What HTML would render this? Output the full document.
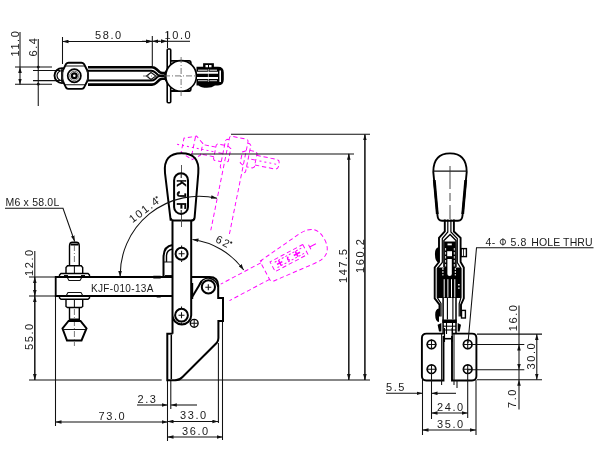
<!DOCTYPE html>
<html><head><meta charset="utf-8">
<style>
html,body{margin:0;padding:0;background:#fff;width:600px;height:460px;overflow:hidden}
svg{display:block;will-change:transform}
text{font-family:"Liberation Sans",sans-serif;font-size:11px;fill:#1a1a1a}
.t{stroke:#111;stroke-width:1.05;fill:none}
.k{stroke:#000;stroke-width:2;fill:none}
.m{stroke:#000;stroke-width:1.4;fill:none}
.d{stroke:#555;stroke-width:0.8;fill:none;stroke-dasharray:6 2 1 2}
.p{stroke:#f0f;stroke-width:1.1;fill:none;stroke-dasharray:5 3}
.n{letter-spacing:1.6px}
</style></head><body>
<svg width="600" height="460" viewBox="0 0 600 460">
<defs>
<marker id="a" viewBox="0 0 10 6" refX="10" refY="3" markerWidth="6" markerHeight="4" markerUnits="userSpaceOnUse" orient="auto-start-reverse"><path d="M0,0L10,3L0,6z" fill="#111"/></marker>
</defs>

<!-- ===== TOP VIEW ===== -->
<g id="top">
<!-- dims -->
<path class="t" d="M15,67H52M15,84.3H52M33,70.4H60M33,80.6H60"/>
<path class="t" d="M20,32V67"/>
<path class="t" d="M20,67V84.5" marker-start="url(#a)" marker-end="url(#a)"/>
<path class="t" d="M38.25,39V106"/>
<circle cx="38.25" cy="67.1" r="1.4" fill="#111"/><circle cx="38.25" cy="84.2" r="1.4" fill="#111"/>
<text class="n" transform="translate(19,56.5) rotate(-90)">11.0</text>
<text class="n" transform="translate(36.5,56.5) rotate(-90)">6.4</text>
<path class="t" d="M62.5,37V64M152.3,36V66M167.5,32V48"/>
<path class="t" d="M62.5,41.5H152" marker-start="url(#a)" marker-end="url(#a)"/>
<path class="t" d="M142,41.3H152" marker-end="url(#a)"/>
<path class="t" d="M160,41.3H152" marker-end="url(#a)"/>
<path class="t" d="M158,41.3H167.5H190" />
<path d="M161,39.3L167,41.3L161,43.3z" fill="#111"/>
<text class="n" x="95" y="39.3">58.0</text>
<text class="n" x="164.5" y="39">10.0</text>

<!-- washer left -->
<circle cx="62" cy="75.6" r="7.5" fill="none" stroke="#000" stroke-width="1.9"/>
<path d="M62,70.6A5,5 0 0 0 62,80.6" stroke="#000" stroke-width="1.2" fill="none"/>
<path class="t" d="M61.7,69V82.5M64.3,68V83.5"/>
<!-- hex nut -->
<path d="M68.5,62.7H81.5Q83,62.7 84,64L87.3,70.5Q88,72 88,74V77.5Q88,79.5 87.3,81L84,87.6Q83,88.9 81.5,88.9H68.5Q67,88.9 66,87.6L62.8,81Q62.3,79.5 62.3,77.5V74Q62.3,72 62.8,70.5L66,64Q67,62.7 68.5,62.7Z" fill="#fff" stroke="#000" stroke-width="1.9"/>
<path class="t" d="M65,66H85M65,84.8H85"/>
<path d="M63.6,70A12,12 0 0 0 63.6,81.5M86.6,70A12,12 0 0 1 86.6,81.5" stroke="#333" stroke-width="0.9" fill="none"/>
<circle cx="74.3" cy="75.8" r="6.6" fill="#fff" stroke="#000" stroke-width="1.7"/>
<circle cx="74.3" cy="75.8" r="4.6" fill="none" stroke="#555" stroke-width="0.9"/>
<circle cx="74.3" cy="75.8" r="2.4" fill="none" stroke="#000" stroke-width="2.2"/>
<!-- bar -->
<path d="M88,67.3H152Q154.5,67.3 156.5,69.2L159.5,72Q160.8,73 162.5,73H165" stroke="#000" stroke-width="2.6" fill="none"/>
<path d="M88,70.7H151.2Q153.5,70.7 155.3,72.5L157.8,74.8Q158.8,75.4 160,75.4H165" stroke="#000" stroke-width="2" fill="none"/>
<path d="M88,84.6H152Q154.5,84.6 156.5,82.6L159.5,79.7Q160.8,78.7 162.5,78.7H165" stroke="#000" stroke-width="2.6" fill="none"/>
<path d="M88,80.6H151.2Q153.5,80.6 155.3,78.9L157.8,76.6Q158.8,76 160,76H165" stroke="#000" stroke-width="2" fill="none"/>
<path class="t" d="M146.5,76L151,72.5L155.9,76L151,79.5Z" stroke="#555"/>
<path class="d" d="M143,76H158"/>
<!-- neck dark -->
<path d="M167,68Q161,75.8 167,84Q170,75.8 167,68Z" fill="#000"/>
<!-- plate -->
<rect x="167.2" y="49" width="3.5" height="53.8" rx="1" fill="#fff" stroke="#000" stroke-width="1.6"/>
<!-- ball -->
<path d="M171,60.8H189.5Q190.8,60.8 190.8,62.5V64M171,91H189.5Q190.8,91 190.8,89.3V88" stroke="#000" stroke-width="1.8" fill="none"/>
<circle cx="181.1" cy="75.9" r="15.3" fill="#fff" stroke="#000" stroke-width="1.6"/>
<path class="d" d="M164,75.9H198M181.1,57V97"/>
<!-- cylinder -->
<path d="M196.5,66.8H218Q223.8,66.8 223.8,72.5V79.5Q223.8,85.4 218,85.4H215Q212,87.8 207,87.8Q201,87.8 198.5,85.4H196.5Z" fill="#000"/>
<path d="M197,72.8H218M197,77.9H218" stroke="#fff" stroke-width="2"/>
<path d="M198,70.3H207.5M209.5,70.3H217M198,80.6H207.5M209.5,80.6H217" stroke="#aaa" stroke-width="1.4"/>
<path d="M208.4,69V82" stroke="#fff" stroke-width="0.6"/>
<path d="M219.4,70.5H221V82H219.4z" fill="#fff"/>
<path d="M203.1,67.5V63.2H213.9V67.5" fill="#000"/>
<path d="M205.5,65H208V67.3H205.5zM209,65H211.5V67.3H209z" fill="#fff"/>
</g>


<!-- ===== PHANTOMS ===== -->
<g id="ph1" transform="rotate(101.4 208.3 287.2)" stroke="#f0f" fill="none" stroke-width="0.95" stroke-dasharray="4.3 2.8">
<path d="M152,277H58Q55.7,277 55.7,279.3V293.7Q55.7,296 58,296H152"/>
<path d="M69.5,266V246Q69.5,242.3 72.5,242.3H76.3Q79.3,242.3 79.3,246V266"/>
<path d="M74.4,245V264" stroke-dasharray="2 3"/>
<path d="M66,273.7V267.5L67.5,265.8H81.2L82.7,267.5V273.7"/>
<path d="M59.5,277V275L61,273.5H88L89.5,275V277"/>
<path d="M59.5,296V298L61,299.3H88L89.5,298V296"/>
<path d="M66,299.3V306.5L67.5,307.5H81.2L82.7,306.5V299.3"/>
<path d="M69.5,307.5V320.5M79.3,307.5V320.5"/>
<path d="M68.5,321L62.5,328.5L67,340.5H81.5L86.5,328.5L80.5,321Z"/>
<path d="M74.4,309V346" stroke-dasharray="2 3"/>
<path d="M74.4,266V273.5M74.4,299.5V307M63.5,329.5H85.5M67,277L69,280.5H80L82,277M66,296L68,292.5H81L83,296"/>
</g>
<g id="ph2" transform="rotate(62 181.5 315.2)" stroke="#f0f" fill="none" stroke-width="0.95" stroke-dasharray="4.3 2.8">
<path d="M170.7,220.6L165,173Q163,153.3 181.5,153.3Q200,153.3 198.3,173L194.6,217.6Q194.3,220.6 191,220.6H174Q171,220.6 170.7,218Z"/>
<path d="M172.5,220.6V266M191.2,220.6V266"/>
<path d="M176,175H187V212H176Z"/>
<path d="M178.5,178V209M184.5,178V209" stroke-dasharray="2 2"/>
<path d="M181.5,163V170" stroke-dasharray="none"/>
<path d="M179,170H184" stroke-dasharray="none"/>
<g stroke="none" fill="#f0f">
<path d="M178.5,184h6v1.6h-6zM180.7,181h1.6v7h-1.6z"/>
<path d="M179.5,193.5a2.3,2.3 0 1 0 4.6,0h-1.5a0.8,0.8 0 1 1 -1.6,0z"/>
<path d="M178.5,203h6v1.5h-6zM180.7,201l1.6,0l0,6l-1.6,0z"/>
</g>
</g>

<!-- ===== SIDE VIEW ===== -->
<g id="side">
<!-- baseline & ext lines -->
<path class="t" d="M29,380H161.7M175,380H370"/>
<path class="t" d="M29,277H55.5M29,296H55.5"/>
<path class="t" d="M55.5,296V426M167.5,380V441M170.8,380V409M218.4,343V423M222.5,320V440"/>
<!-- vertical left dims -->
<path class="t" d="M34.8,251V277"/>
<path class="t" d="M34.8,277V296" />
<path class="t" d="M34.8,290V277" marker-end="url(#a)"/>
<path class="t" d="M34.8,283V296" marker-end="url(#a)"/>
<path class="t" d="M34.8,380V296" marker-end="url(#a)"/>
<path class="t" d="M34.8,296V380" marker-end="url(#a)"/>
<text class="n" transform="translate(32.5,276) rotate(-90)">12.0</text>
<text class="n" transform="translate(32.5,350) rotate(-90)">55.0</text>
<!-- bottom dims -->
<path class="t" d="M137,405H167.5" marker-end="url(#a)"/>
<path class="t" d="M197,405H170.8" marker-end="url(#a)"/>
<text class="n" x="137.5" y="402.5">2.3</text>
<path class="t" d="M55.5,422H167.5" marker-start="url(#a)" marker-end="url(#a)"/>
<text class="n" x="98.5" y="419.5">73.0</text>
<path class="t" d="M167.5,421.5H218.4" marker-start="url(#a)" marker-end="url(#a)"/>
<text class="n" x="180" y="419">33.0</text>
<path class="t" d="M167.5,437H222.5" marker-start="url(#a)" marker-end="url(#a)"/>
<text class="n" x="182" y="435">36.0</text>
<!-- right dims -->
<path class="t" d="M231,134.3H370M191,153.9H354"/>
<path class="t" d="M348.8,380V153.7" marker-end="url(#a)"/>
<path class="t" d="M364.9,380V134.3" marker-end="url(#a)"/>
<path class="t" d="M348.8,154V380" marker-end="url(#a)"/>
<path class="t" d="M364.9,135V380" marker-end="url(#a)"/>
<text class="n" transform="translate(346.5,283) rotate(-90)">147.5</text>
<text class="n" transform="translate(363.5,273) rotate(-90)">160.2</text>
<!-- M6 label -->
<text x="5.5" y="206.3" style="font-size:10.5px;letter-spacing:0.2px">M6 x 58.0L</text>
<path class="t" d="M5,208.3H63L74.7,241.5" marker-end="url(#a)"/>

<!-- upper bolt -->
<path class="m" d="M69.5,266V246Q69.5,242.3 72.5,242.3H76.3Q79.3,242.3 79.3,246V266"/>
<path d="M70.5,243.5H78.5V245.5H70.5z" fill="#000"/>
<path class="d" d="M74.4,245V264"/>
<path class="m" d="M66,273.7V267.5L67.5,265.8H81.2L82.7,267.5V273.7"/>
<path class="t" d="M74.4,266V273.5"/>
<path class="m" d="M59.5,277V275L61,273.5H88L89.5,275V277"/>
<path class="t" d="M64,275.5H68M81,275.5H85"/>
<path class="t" d="M67,277L69,280.5H80L82,277"/>
<!-- arm -->
<path d="M172,277H55.7V296H172" stroke="#000" stroke-width="1.8" fill="none"/>
<path d="M153.3,275.8H160.7V278.4H153.3zM156.7,295H160.7V297.4H156.7z" fill="#000"/>
<text x="91" y="292" style="font-size:10px;letter-spacing:0.35px">KJF-010-13A</text>
<!-- lower bolt -->
<path class="t" d="M66,296L68,292.5H81L83,296"/>
<path class="m" d="M59.5,296V298L61,299.3H88L89.5,298V296"/>
<path class="m" d="M66,299.3V306.5L67.5,307.5H81.2L82.7,306.5V299.3"/>
<path class="t" d="M74.4,299.5V307"/>
<path class="m" d="M69.5,307.5V320.5M79.3,307.5V320.5"/>
<path class="d" d="M74.4,309V330"/>
<path d="M69.5,318.5H79.3V321H69.5z" fill="#000"/>
<path class="k" d="M68.5,321L62.5,328.5L67,340.5H81.5L86.5,328.5L80.5,321Z"/>
<path class="t" d="M63.5,329.5H85.5"/>
<path class="d" d="M74.4,331V346"/>

<!-- hook piece -->
<path class="k" d="M163.5,277V258Q163.5,246 172.5,245"/>
<path class="m" d="M166.5,262V256Q166.5,250 172.5,249"/>
<path class="t" d="M163.5,262H172.5M165,275.5H172.5"/>

<!-- handle grip -->
<path class="k" d="M170.7,220.6L165,173Q163,153.3 181.5,153.3Q200,153.3 198.3,173L194.6,217.6Q194.3,220.6 191,220.6H174Q171,220.6 170.7,218Z"/>
<path d="M181.5,165V227" stroke="#444" stroke-width="0.9"/>
<rect x="174.1" y="173.2" width="13.9" height="40.7" rx="6.95" fill="#fff" stroke="#000" stroke-width="2"/>
<path class="t" d="M181.2,173V178M181.2,210V214"/>
<g fill="#000" style="font-size:12px;font-weight:bold">
<text style="font-size:12px;font-weight:bold;fill:#000" stroke="#000" stroke-width="0.45" transform="translate(176.9,179.6) rotate(90) scale(0.82,1)">K</text>
<text style="font-size:12px;font-weight:bold;fill:#000" stroke="#000" stroke-width="0.45" transform="translate(176.9,191.2) rotate(90) scale(0.95,1)">J</text>
<text style="font-size:12px;font-weight:bold;fill:#000" stroke="#000" stroke-width="0.45" transform="translate(176.9,202.4) rotate(90) scale(0.9,1)">F</text>
</g>
<!-- link -->
<path class="k" d="M172.5,220.6V333.8M191.2,220.6V315.2A9.35,9.35 0 0 1 172.5,315.2"/>
<circle class="k" cx="181.6" cy="253.7" r="6"/>
<path class="t" d="M178.6,253.7H184.6M181.6,250.7V256.7M181.6,245.5V247M181.6,260.5V262"/>
<circle class="k" cx="181.5" cy="315.2" r="6.4"/>
<path class="t" d="M178.5,315.2H184.5M181.5,312.2V318.2M181.5,306.5V308M181.5,322.5V324"/>
<circle cx="194.2" cy="323.3" r="3.9" fill="#fff" stroke="#000" stroke-width="1.4"/>
<path class="t" d="M190.7,323.3H197.7M194.2,319.8V326.8"/>

<!-- base -->
<path class="k" d="M172.5,333.8H167.3V380.2H175.5Q179.5,380.2 182.5,377L216.8,342.8Q218.4,341 218.4,338V321H223V298H218.2V285.5Q218.2,276.9 209.5,276.9H191.5"/>
<path d="M171.3,335V379" stroke="#000" stroke-width="1.5"/>
<circle class="k" cx="208.4" cy="286.9" r="6.6"/>
<path class="t" d="M205.3,287.2H211.3M208.3,284.2V290.2"/>
<path class="m" d="M199.2,284.5A9.6,9.6 0 0 1 217.8,287"/>
<path class="k" d="M191.8,297.5L201.8,281"/>
<path class="m" d="M192.5,283V299"/>

<!-- arcs -->
<path class="t" d="M217,198.3A79,79 0 0 0 120.2,277" marker-start="url(#a)" marker-end="url(#a)"/>
<text class="n" transform="translate(132.5,223.3) rotate(-37)">101.4</text><circle cx="156.6" cy="197.3" r="1.1" fill="#333"/>
<path class="t" d="M192.5,239.5A76,76 0 0 1 243.7,270" marker-start="url(#a)" marker-end="url(#a)"/>
<text class="n" transform="translate(214.8,241.8) rotate(26)">62</text><circle cx="231.2" cy="242.6" r="1.15" fill="#222"/>
</g>

<!-- ===== END VIEW ===== -->
<g id="end">
<!-- handle -->
<path d="M433.3,172Q433.3,153.4 450,153.4Q466.7,153.4 466.7,172L462.5,215.5Q462.2,220.7 458,220.7H442Q437.8,220.7 437.5,215.5Z" fill="none" stroke="#000" stroke-width="1.9"/>
<path class="t" d="M433.3,171.1H466.7"/>
<path d="M434.3,180L437.3,214" stroke="#000" stroke-width="2.8" fill="none"/>
<path d="M465.7,180L462.7,214" stroke="#000" stroke-width="2.8" fill="none"/>
<path d="M450,166V189M450,193V201M450,205V219" stroke="#333" stroke-width="0.9"/>
<!-- stem -->
<path d="M444.8,219.5V231.5L439,237.8V262L434.7,267.5V298.4L439.5,304.6V316.5M453.9,219.5V231.5L460.6,237.8V262L463.8,267.5V298.4L461,304.6V316.5" stroke="#000" stroke-width="1.9" fill="none"/>
<path d="M447.8,219.5V232L442.3,238.5V262.5L437.3,268.5V297.5L441,303.5V316.5M450.9,219.5V232L457.3,238.5V262.5L461,268.5V297.5L459.2,303.5V316.5" stroke="#000" stroke-width="1.2" fill="none"/>
<path d="M443.9,267V240.5L450.1,234.6L456,240.5V267" stroke="#000" stroke-width="1.4" fill="none"/>
<path d="M444.2,241.5H455.7V268H444.2z" fill="#000"/>
<path d="M447.5,243.5H451.8V245.3H447.5z" fill="#fff"/>
<path d="M445.6,248V268M454.3,248V268" stroke="#fff" stroke-width="0.9" stroke-dasharray="2.5 1.5"/>
<rect x="447.2" y="251.2" width="4.8" height="5" fill="#fff"/>
<path d="M439,247Q434.5,248 435,255Q435,262 439,262.8z" fill="#000"/>
<rect x="461" y="248.6" width="5.4" height="8" fill="none" stroke="#000" stroke-width="1.4"/>
<path d="M463.5,248.6V256.6" stroke="#000" stroke-width="0.8"/>
<!-- dense region -->
<path d="M437.3,267.5H461V298H437.3z" fill="#000"/>
<path d="M442.9,268V275.5M455.3,268V275.5" stroke="#fff" stroke-width="1" stroke-dasharray="2 1"/>
<path d="M447.4,259H451.8V274Q451.8,276 449.6,276Q447.4,276 447.4,274z" fill="#fff"/>
<path d="M444.2,279.2V297.4M447.9,279.2V297.4M451.5,279.2V297.4M454.8,279.2V297.4" stroke="#fff" stroke-width="1"/>
<path d="M458.1,284H459.6V285.5H458.1zM458.1,287.4H459.6V288.8H458.1z" fill="#fff"/>
<!-- column -->
<path d="M443.1,298V334M456,298V334" stroke="#000" stroke-width="1.5"/>
<path d="M447.4,298V319.5M452.9,298V319.5M446.5,323V334M452.5,323V334" stroke="#000" stroke-width="1.1"/>
<path d="M442.4,319.5H456.7V323H442.4z" fill="#000"/>
<path d="M443,326.2H456M443,330H456" stroke="#000" stroke-width="1"/>
<path d="M439,308.5Q435,309 435.2,315Q435.2,321.5 439,322z" fill="#000"/>
<path d="M437.6,324.8L441.4,323V331.5H439z" fill="#000"/>
<path d="M461,324.8L457.7,323V331.5H459.6z" fill="#000"/>
<rect x="461.5" y="310.4" width="3.9" height="7.6" fill="none" stroke="#000" stroke-width="1.4"/>
<!-- base plates -->
<path d="M443.5,333.6H426.5Q421.9,333.6 421.9,338.2V376Q421.9,380.5 426.3,380.5H443.5V336" stroke="#000" stroke-width="1.9" fill="none"/>
<path d="M452,333.6H472Q476.4,333.6 476.4,338V376Q476.4,380.5 472,380.5H452V336" stroke="#000" stroke-width="1.9" fill="none"/>
<path class="t" d="M441.6,333.6V385M454,333.6V385"/>
<path d="M444.4,328V342M452.2,328V342" stroke="#000" stroke-width="1.3"/>
<path d="M444.4,338.7H452.2" stroke="#000" stroke-width="1.6"/>
<circle cx="431.5" cy="344.4" r="4.3" fill="none" stroke="#000" stroke-width="1.7"/><path class="t" d="M426.7,344.4H436.3M431.5,339.6V349.2"/>
<circle cx="467.7" cy="344.4" r="4.3" fill="none" stroke="#000" stroke-width="1.7"/><path class="t" d="M462.9,344.4H472.5M467.7,339.6V349.2"/>
<circle cx="431.5" cy="369.2" r="4.3" fill="none" stroke="#000" stroke-width="1.7"/><path class="t" d="M426.7,369.2H436.3M431.5,364.4V374"/>
<circle cx="467.7" cy="369.2" r="4.3" fill="none" stroke="#000" stroke-width="1.7"/><path class="t" d="M462.9,369.2H472.5M467.7,364.4V374"/>
<!-- dims -->
<path class="t" d="M422.5,380V435M431.5,370V419M457,380V388M467.7,370V418M476,380V435"/>
<path class="t" d="M386,393.3H422.5" marker-end="url(#a)"/>
<path class="t" d="M456,393.3H431.5" marker-end="url(#a)"/>
<text class="n" x="386" y="391">5.5</text>
<path class="t" d="M431.5,413H467.7" marker-start="url(#a)" marker-end="url(#a)"/>
<text class="n" x="437" y="410.5">24.0</text>
<path class="t" d="M422.5,430H476" marker-start="url(#a)" marker-end="url(#a)"/>
<text class="n" x="437" y="427.5">35.0</text>
<path class="t" d="M477,334.1H542M468,344.5H524.3M468,369.8H524.3M477,379.7H542"/>
<path class="t" d="M519,305.4V344.5"/>
<path class="t" d="M519,344.5V369.8" marker-start="url(#a)" marker-end="url(#a)"/>
<path class="t" d="M519,369.8V379.7"/>
<path class="t" d="M519,409.6V379.7" marker-end="url(#a)"/>
<path class="t" d="M536.8,334.1V379.7" marker-start="url(#a)" marker-end="url(#a)"/>
<text class="n" transform="translate(517,331.3) rotate(-90)">16.0</text>
<text class="n" transform="translate(534.5,369.5) rotate(-90)">30.0</text>
<text class="n" transform="translate(516,408) rotate(-90)">7.0</text>
<!-- hole label -->
<text x="485.6" y="245.7" style="font-size:10.5px;letter-spacing:0.4px">4-</text>
<circle cx="502.9" cy="241.9" r="2.7" fill="none" stroke="#222" stroke-width="0.9"/><path d="M502.9,238.3V245.6" stroke="#222" stroke-width="0.9"/>
<text x="510.5" y="245.7" style="font-size:10.5px;letter-spacing:0.6px">5.8</text>
<text x="531.3" y="245.7" style="font-size:10.5px;letter-spacing:0.1px">HOLE THRU</text>
<path class="t" d="M593.5,247.8H476.5L468,343"/>
</g>
</svg>
</body></html>
